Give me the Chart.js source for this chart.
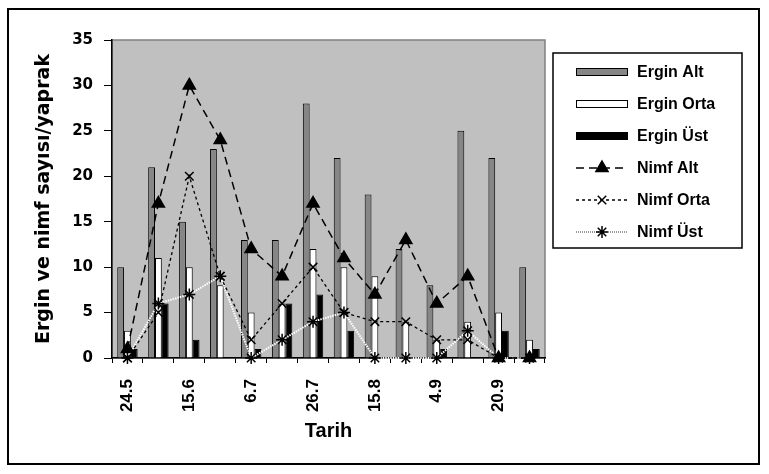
<!DOCTYPE html>
<html>
<head>
<meta charset="utf-8">
<script src="https://cdn.jsdelivr.net/npm/chart.js@4"></script>
<style>
  html, body { margin: 0; padding: 0; background: #fff; }
  #wrap { width: 769px; height: 474px; }
</style>
</head>
<body>
<div id="wrap"><canvas id="chart" width="769" height="474"></canvas></div>
<script>
const dates = ["24.5", "", "15.6", "", "6.7", "", "26.7", "", "15.8", "", "4.9", "", "20.9", ""];

const erginAlt = [10, 21, 15, 23, 13, 13, 28, 22, 18, 12, 8, 25, 22, 10];
const erginOrta = [3, 11, 10, 8, 5, 6, 12, 10, 9, 4, 2, 4, 5, 2];
const erginUst = [1, 6, 2, 0, 1, 6, 7, 3, 0, 0, 1, 0, 3, 1];
const nimfAlt = [1, 17, 30, 24, 12, 9, 17, 11, 7, 13, 6, 9, 0, 0];
const nimfOrta = [0, 5, 20, 9, 2, 6, 10, 5, 4, 4, 2, 2, 0, 0];
const nimfUst = [0, 6, 7, 9, 0, 2, 4, 5, 0, 0, 0, 3, 0, 0];

const PLOT_BG = "#c0c0c0";

// background, plot area and outer frame
const framePlugin = {
  id: "frame",
  beforeDraw(chart) {
    const { ctx, chartArea: a } = chart;
    ctx.save();
    ctx.fillStyle = "#fff";
    ctx.fillRect(0, 0, chart.width, chart.height);
    ctx.fillStyle = PLOT_BG;
    ctx.fillRect(a.left, a.top, a.right - a.left, a.bottom - a.top);
    ctx.strokeStyle = "#808080";
    ctx.lineWidth = 1.5;
    ctx.strokeRect(a.left, a.top, a.right - a.left, a.bottom - a.top);
    ctx.strokeStyle = "#000";
    ctx.lineWidth = 2;
    ctx.strokeRect(8, 9, 751, 455);
    ctx.restore();
  },
};

// boxed legend on the right, drawn from the dataset styles
const legendPlugin = {
  id: "boxLegend",
  afterDraw(chart) {
    const { ctx } = chart;
    const x0 = 553, y0 = 53, w = 189, h = 195;
    ctx.save();
    ctx.fillStyle = "#fff";
    ctx.fillRect(x0, y0, w, h);
    ctx.strokeStyle = "#000";
    ctx.lineWidth = 1.5;
    ctx.strokeRect(x0, y0, w, h);

    chart.data.datasets.forEach((ds, i) => {
      const y = 72 + i * 32;
      const sx = 576, ex = 628;
      if (ds.type === "bar") {
        ctx.fillStyle = ds.backgroundColor;
        ctx.fillRect(sx, y - 4, ex - sx, 8);
        ctx.strokeStyle = "#000";
        ctx.lineWidth = 1;
        ctx.strokeRect(sx + 0.5, y - 3.5, ex - sx - 1, 7);
      } else {
        ctx.beginPath();
        ctx.setLineDash(ds.legendDash || ds.borderDash || []);
        ctx.strokeStyle = ds.legendColor || ds.borderColor;
        ctx.lineWidth = ds.legendWidth || ds.borderWidth;
        ctx.moveTo(sx, y);
        ctx.lineTo(ex, y);
        ctx.stroke();
        ctx.setLineDash([]);
        ctx.fillStyle = "#000";
        ctx.strokeStyle = "#000";
        ctx.lineWidth = 1.5;
        Chart.helpers.drawPoint(ctx, {
          pointStyle: ds.pointStyle,
          radius: ds.pointRadius,
          borderWidth: 1.5,
        }, (sx + ex) / 2, y);
      }
      ctx.fillStyle = "#000";
      ctx.font = "bold 16px 'Liberation Sans', Arial, sans-serif";
      ctx.textBaseline = "middle";
      ctx.textAlign = "left";
      ctx.fillText(ds.label, 637, y + 1);
    });
    ctx.restore();
  },
};

const barStyle = { borderColor: "#000", borderWidth: 1, categoryPercentage: 0.66, barPercentage: 1.0, order: 2 };
const lineStyle = {
  fill: false,
  tension: 0,
  clip: false,
  order: 1,
  pointBackgroundColor: "#000",
  pointBorderColor: "#000",
  pointBorderWidth: 1.5,
};

new Chart(document.getElementById("chart"), {
  data: {
    labels: dates,
    datasets: [
      { type: "bar", label: "Ergin Alt", data: erginAlt, backgroundColor: "#868686", ...barStyle },
      { type: "bar", label: "Ergin Orta", data: erginOrta, backgroundColor: "#ffffff", ...barStyle },
      { type: "bar", label: "Ergin Üst", data: erginUst, backgroundColor: "#000000", ...barStyle },
      {
        type: "line", label: "Nimf Alt", data: nimfAlt, ...lineStyle,
        borderColor: "#000", borderWidth: 1.5, borderDash: [8, 5],
        pointStyle: "triangle", pointRadius: 7,
      },
      {
        type: "line", label: "Nimf Orta", data: nimfOrta, ...lineStyle,
        borderColor: "#000", borderWidth: 1.3, borderDash: [3, 3],
        pointStyle: "crossRot", pointRadius: 6,
      },
      {
        type: "line", label: "Nimf Üst", data: nimfUst, ...lineStyle,
        borderColor: "#ffffff", borderWidth: 2, borderDash: [1.5, 1],
        legendColor: "#777", legendDash: [1, 1], legendWidth: 1.5,
        pointStyle: "star", pointRadius: 6,
      },
    ],
  },
  options: {
    responsive: false,
    animation: false,
    events: [],
    layout: { padding: { left: 29, top: 40, right: 224, bottom: 27 } },
    plugins: { legend: { display: false }, tooltip: { enabled: false } },
    scales: {
      x: {
        offset: true,
        afterFit: (scale) => { scale.height = 89; },
        grid: { offset: true, drawOnChartArea: false, tickLength: 5, color: "#000", tickColor: "#000" },
        border: { color: "#000", width: 1.5 },
        ticks: {
          autoSkip: false,
          maxRotation: 90,
          minRotation: 90,
          padding: 16,
          color: "#000",
          font: { family: "'Liberation Sans', Arial, sans-serif", size: 17, weight: "bold" },
        },
        title: {
          display: true,
          text: "Tarih",
          color: "#000",
          font: { family: "'Liberation Sans', Arial, sans-serif", size: 20, weight: "bold" },
        },
      },
      y: {
        min: 0,
        max: 35,
        afterFit: (scale) => { scale.width = 83; },
        grid: { drawOnChartArea: false, tickLength: 8, color: "#000", tickColor: "#000" },
        border: { color: "#000", width: 1.5 },
        ticks: {
          stepSize: 5,
          padding: 11,
          color: "#000",
          font: { family: "'DejaVu Sans', sans-serif", size: 15, weight: "bold" },
        },
        title: {
          display: true,
          text: "Ergin ve nimf sayısı/yaprak",
          color: "#000",
          font: { family: "'DejaVu Sans', sans-serif", size: 19, weight: "bold" },
        },
      },
    },
  },
  plugins: [framePlugin, legendPlugin],
});
</script>
</body>
</html>
